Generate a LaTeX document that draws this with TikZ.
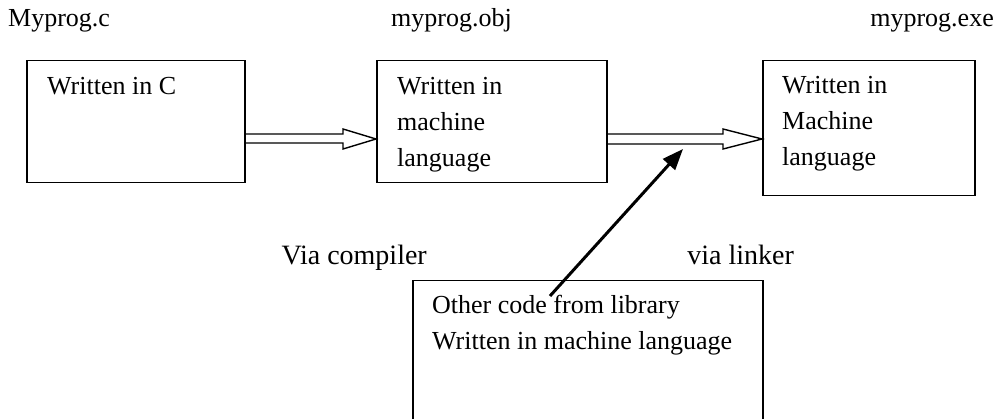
\documentclass[tikz,border=0pt]{standalone}
\usepackage{fontspec}
\setmainfont{Liberation Serif}
\usetikzlibrary{arrows.meta}
\begin{document}
\begin{tikzpicture}[x=1pt,y=-1pt,
  box/.style={draw, line width=1.5pt, anchor=north west, inner sep=0pt},
  lbl/.style={anchor=base west, inner sep=0pt, font=\fontsize{26}{36}\selectfont},
  lble/.style={lbl, anchor=base east},
  vialbl/.style={lble, font=\fontsize{28}{36}\selectfont},
  hollow/.style={draw, line width=1.4pt, line join=miter},
  ptr/.style={line width=3pt, -{Triangle[length=21pt,width=16pt]}}]
\useasboundingbox (0,0) rectangle (996,419);
% boxes
\node[box, minimum width=218pt, minimum height=122pt] (b1) at (26,60) {};
\node[box, minimum width=230pt, minimum height=122pt] (b2) at (376,60) {};
\node[box, minimum width=212pt, minimum height=135pt] (b3) at (762,60) {};
\node[box, minimum width=350pt, minimum height=150pt] (b4) at (412,280) {};
% file names
\node[lbl] (n1) at (8,27) {Myprog.c};
\node[lbl] (n2) at (391,27) {myprog.obj};
\node[lble] (n3) at (994,27) {myprog.exe};
% box texts
\node[lbl] (t1) at (47,95) {Written in C};
\node[lbl] (t2a) at (397,95) {Written in};
\node[lbl] (t2b) at (397,131) {machine};
\node[lbl] (t2c) at (397,167) {language};
\node[lbl] (t3a) at (782,94) {Written in};
\node[lbl] (t3b) at (782,130) {Machine};
\node[lbl] (t3c) at (782,166) {language};
\node[lbl] (t4a) at (432,314) {Other code from library};
\node[lbl] (t4b) at (432,350) {Written in machine language};
% tool labels
\node[vialbl] (v1) at (427,265) {Via compiler};
\node[vialbl] (v2) at (794,265) {via linker};
% hollow arrows
\draw[hollow] (b1.east |- 0,134) -- (343,134) -- (343,129) -- (b2.west |- 0,139)
  -- (343,149) -- (343,143) -- (b1.east |- 0,143);
\draw[hollow] (b2.east |- 0,134) -- (723,134) -- (723,129) -- (b3.west |- 0,139)
  -- (723,149) -- (723,144) -- (b2.east |- 0,144);
% library arrow
\coordinate (src) at (550,296);
\coordinate (dst) at (683,149);
\draw[ptr] (src) -- (dst);
\end{tikzpicture}
\end{document}
